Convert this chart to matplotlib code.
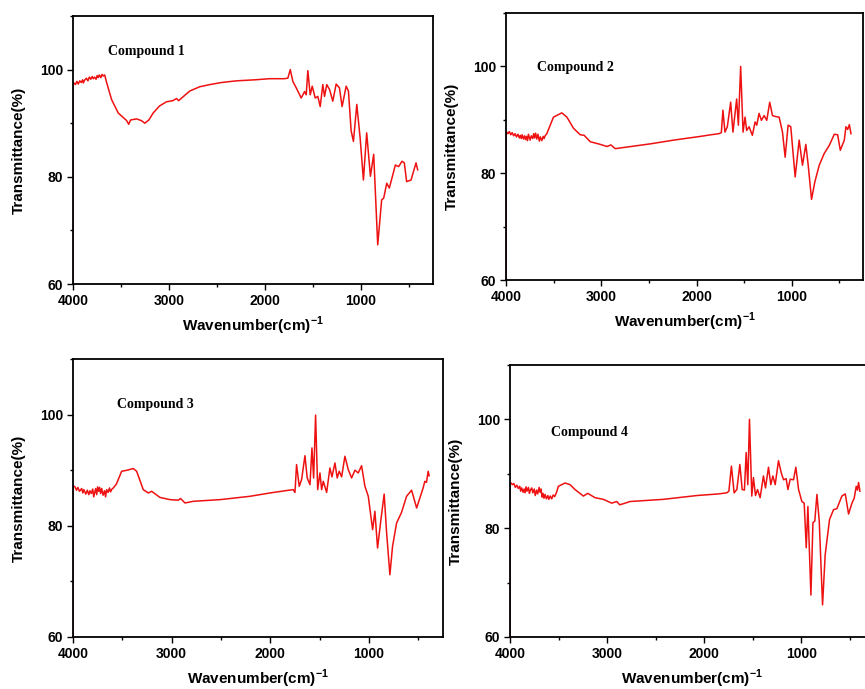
import matplotlib
matplotlib.use("Agg")
import matplotlib.pyplot as plt
from matplotlib.ticker import MultipleLocator

# IR spectra, wavenumber (cm-1) vs transmittance (%)
wn1 = [4000, 4000, 3990, 3975, 3960, 3945, 3930, 3915, 3900, 3893,
       3880, 3860, 3845, 3830, 3815, 3800, 3789, 3775, 3760, 3748,
       3737, 3725, 3710, 3697, 3685, 3670, 3650, 3598, 3529, 3442,
       3420, 3400, 3338, 3290, 3252, 3210, 3165, 3100, 3026, 2960,
       2922, 2900, 2784, 2680, 2576, 2450, 2298, 2100, 1952, 1800,
       1762, 1737, 1710,
       1675, 1623, 1588, 1571, 1554, 1529, 1508, 1477, 1450, 1425,
       1398, 1380, 1357, 1328, 1294, 1259, 1225, 1197, 1155, 1131,
       1103, 1079, 1044, 1009, 975, 941, 902, 868, 826, 785,
       764, 732, 705, 642, 608, 573, 549, 525, 479, 427,
       410]
t1 = [60, 97.4, 97.5, 97.2, 97.8, 97.3, 97.9, 97.6, 98.1, 97.5,
      98.0, 98.4, 97.9, 98.6, 98.2, 98.7, 98.3, 98.6, 98.2, 98.9,
      98.5, 99.0, 98.5, 99.1, 98.8, 99.0, 97.6, 94.4, 91.9, 90.5,
      89.8, 90.6, 90.8, 90.5, 90.0, 90.6, 91.9, 93.2, 94.0, 94.2,
      94.6, 94.2, 96.0, 96.8, 97.2, 97.6, 97.9, 98.1, 98.3, 98.3,
      98.4, 100.0, 97.8,
      96.6, 94.7, 95.9, 95.3, 99.8, 95.3, 96.9, 94.7, 95.0, 93.1,
      97.2, 95.0, 97.2, 96.3, 94.1, 97.3, 96.6, 93.1, 96.9, 96.0,
      88.6, 86.6, 93.5, 87.2, 79.4, 88.2, 80.1, 84.2, 67.3, 75.7,
      76.0, 78.8, 77.9, 82.2, 81.9, 82.9, 82.6, 79.1, 79.4, 82.6,
      81.3]

wn2 = [4000, 4000, 3993, 3980, 3965, 3950, 3935, 3920, 3905, 3890,
       3875, 3860, 3850, 3840, 3830, 3817, 3805, 3795, 3785, 3775,
       3765, 3747, 3735, 3720, 3710, 3700, 3690, 3677, 3665, 3650,
       3640, 3624, 3610, 3600, 3590, 3572, 3502, 3414, 3361, 3291,
       3221, 3180, 3116, 3011, 2940, 2900, 2853, 2730, 2484, 2239,
       1958, 1850, 1765, 1740, 1723, 1702, 1677, 1642, 1618, 1579,
       1561, 1537, 1512, 1491, 1474, 1449, 1414, 1386, 1368, 1344,
       1319, 1291, 1263, 1232, 1203, 1168, 1133, 1098, 1070, 1039,
       1011, 965, 923, 888, 853, 828, 793, 758, 712, 660,
       607, 554, 519, 491, 449, 432, 414, 396, 379]
t2 = [60, 87.8, 87.7, 87.4, 87.8, 87.2, 87.6, 87.0, 87.4, 86.8,
      87.3, 86.6, 87.1, 86.5, 87.2, 86.4, 87.0, 86.3, 86.9, 86.1,
      87.3, 86.2, 87.0, 86.5, 87.4, 86.6, 87.5, 86.4, 87.3, 86.0,
      86.8, 86.1, 86.9, 86.5, 87.0, 87.4, 90.5, 91.3, 90.5, 88.4,
      87.2, 87.1, 85.9, 85.4, 85.0, 85.3, 84.6, 84.9, 85.5, 86.2,
      86.9, 87.2, 87.4, 87.6, 91.8, 87.7, 88.7, 93.3, 87.7, 93.9,
      89.0, 100.0, 87.7, 90.5, 88.0, 88.7, 87.1, 89.6, 89.0, 91.2,
      89.9, 90.8, 89.9, 93.3, 90.8, 90.6, 90.5, 87.7, 83.0, 89.0,
      88.7, 79.3, 86.2, 81.5, 85.4, 81.5, 75.1, 78.4, 81.5, 83.7,
      85.2, 87.3, 87.2, 84.3, 86.2, 88.7, 88.2, 89.1, 87.4]

wn3 = [4000, 4000, 3997, 3980, 3965, 3950, 3935, 3912, 3900, 3890,
       3870, 3855, 3840, 3828, 3815, 3800, 3790, 3780, 3770, 3760,
       3750, 3740, 3730, 3720, 3709, 3695, 3680, 3670, 3659, 3645,
       3630, 3620, 3605, 3592, 3560, 3507, 3450, 3389, 3355, 3288,
       3237, 3203, 3119, 3017, 2933, 2910, 2865, 2781, 2511, 2207,
       2004, 1850, 1768, 1750, 1734, 1707, 1683, 1649, 1626, 1598,
       1578, 1561, 1541, 1520, 1497, 1480, 1463, 1429, 1396, 1375,
       1345, 1322, 1302, 1277, 1244, 1210, 1176, 1142, 1109, 1075,
       1041, 1007, 963, 940, 913, 879, 846, 821, 788, 761,
       720, 670, 619, 568, 517, 484, 451, 434, 417, 400,
       390]
t3 = [60, 87.2, 87.2, 87.0, 86.4, 86.9, 86.2, 86.7, 85.9, 86.5,
      85.7, 86.4, 85.6, 86.3, 85.8, 86.6, 85.2, 86.0, 86.7, 85.6,
      87.0, 86.2, 86.9, 85.8, 86.7, 85.5, 86.3, 85.2, 86.5, 86.0,
      86.8, 86.1, 86.6, 86.8, 87.5, 89.8, 90.0, 90.3, 89.8, 86.5,
      85.9, 86.2, 85.1, 84.7, 84.6, 84.9, 84.1, 84.4, 84.7, 85.3,
      85.9, 86.3, 86.5, 86.0, 91.0, 87.1, 88.3, 92.6, 88.6, 87.4,
      94.0, 88.6, 99.9, 86.5, 89.5, 86.5, 88.0, 86.0, 90.4, 88.8,
      91.3, 88.6, 89.8, 88.8, 92.5, 90.1, 88.6, 90.0, 89.5, 90.8,
      87.1, 85.3, 79.3, 82.6, 76.0, 81.1, 85.7, 78.7, 71.2, 76.3,
      80.5, 82.4, 85.3, 86.4, 83.2, 85.0, 86.8, 88.0, 87.8, 89.8,
      89.0]

wn4 = [4000, 4000, 3990, 3975, 3960, 3945, 3930, 3914, 3900, 3890,
       3880, 3865, 3855, 3845, 3835, 3825, 3810, 3800, 3790, 3776,
       3765, 3750, 3740, 3725, 3715, 3700, 3691, 3680, 3670, 3660,
       3650, 3639, 3625, 3610, 3600, 3585, 3570, 3555, 3540, 3520,
       3502, 3433, 3381, 3330,
       3244, 3199, 3124, 3038, 2952, 2900, 2870, 2831, 2763, 2419,
       2075, 1850, 1766, 1745, 1719, 1691, 1663, 1632, 1608, 1585,
       1567, 1550, 1533, 1509, 1492, 1471, 1450, 1423, 1389, 1368,
       1337, 1313, 1292, 1268, 1234, 1206, 1182, 1155, 1137, 1113,
       1079, 1055, 1027, 993, 969, 948, 931, 900, 879, 860,
       838, 814, 780, 753, 708, 667, 632, 581, 546, 512,
       477, 454, 433, 420, 409, 395]
t4 = [60, 88.4, 88.3, 88.0, 88.2, 87.5, 87.9, 87.3, 87.7, 86.8,
      87.4, 86.6, 87.2, 86.5, 87.6, 86.8, 87.5, 86.4, 87.0, 87.4,
      86.5, 87.2, 86.0, 87.0, 86.3, 87.5, 86.6, 87.2, 85.7, 86.4,
      85.5, 86.2, 85.4, 86.0, 85.3, 85.9, 85.4, 86.1, 85.8, 86.6,
      87.7, 88.3, 88.0, 87.1,
      85.9, 86.4, 85.6, 85.3, 84.6, 84.9, 84.3, 84.5, 84.9, 85.3,
      86.0, 86.3, 86.5, 86.8, 91.4, 86.5, 87.1, 91.7, 87.1, 87.0,
      93.9, 88.0, 100.0, 85.9, 89.3, 86.0, 87.1, 85.6, 89.6, 87.4,
      91.2, 88.0, 89.6, 88.0, 92.4, 90.2, 88.9, 89.1, 87.1, 89.0,
      88.9, 91.2, 87.1, 84.9, 84.6, 76.4, 84.0, 67.7, 81.0, 81.3,
      86.2, 81.3, 65.9, 75.1, 81.6, 83.4, 83.6, 85.9, 86.3, 82.6,
      84.6, 85.5, 87.7, 87.0, 88.4, 86.8]

names = ["Compound 1", "Compound 2", "Compound 3", "Compound 4"]
x_ticks = [4000, 3000, 2000, 1000]
y_ticks = [60, 80, 100]

plt.rcParams["font.family"] = "Liberation Sans"
plt.rcParams["font.weight"] = "bold"
plt.rcParams["mathtext.fontset"] = "custom"
plt.rcParams["mathtext.bf"] = "Liberation Sans:bold"
plt.rcParams["mathtext.rm"] = "Liberation Sans:bold"


def draw(ax, wn, t, name, name_at):
    ax.plot(wn, t, color="#ee1111", lw=1.1)
    ax.set_xlim(4000, 250)
    ax.set_ylim(60, 110)
    ax.set_xticks(x_ticks)
    ax.set_yticks(y_ticks)
    ax.xaxis.set_minor_locator(MultipleLocator(500))
    ax.yaxis.set_minor_locator(MultipleLocator(10))
    ax.tick_params(which="major", direction="out", length=4, width=1,
                   labelsize=10, pad=3)
    ax.tick_params(which="minor", direction="out", length=2.5, width=1)
    for lbl in ax.get_xticklabels() + ax.get_yticklabels():
        lbl.set_fontweight("bold")
    for sp in ax.spines.values():
        sp.set_linewidth(1.3)
    ax.set_xlabel(r"Wavenumber(cm)$^{\mathbf{-1}}$", fontsize=11,
                  fontweight="bold", labelpad=5)
    ax.set_ylabel("Transmittance(%)", fontsize=11, fontweight="bold",
                  labelpad=10)
    ax.text(name_at[0], name_at[1], name, fontsize=10, fontweight="bold",
            family="Liberation Serif", ha="left", va="center")


fig = plt.figure(figsize=(8.65, 6.89), dpi=100)
ax1 = fig.add_axes([0.0844, 0.5878, 0.4162, 0.389])
ax2 = fig.add_axes([0.585, 0.5936, 0.413, 0.3875])
ax3 = fig.add_axes([0.0844, 0.0755, 0.4277, 0.4035])
ax4 = fig.add_axes([0.5896, 0.0755, 0.4208, 0.3948])

draw(ax1, wn1, t1, names[0], (3636, 103.4))
draw(ax2, wn2, t2, names[1], (3674, 99.8))
draw(ax3, wn3, t3, names[2], (3554, 101.8))
draw(ax4, wn4, t4, names[3], (3577, 97.6))

fig.savefig("out.png", dpi=100)
